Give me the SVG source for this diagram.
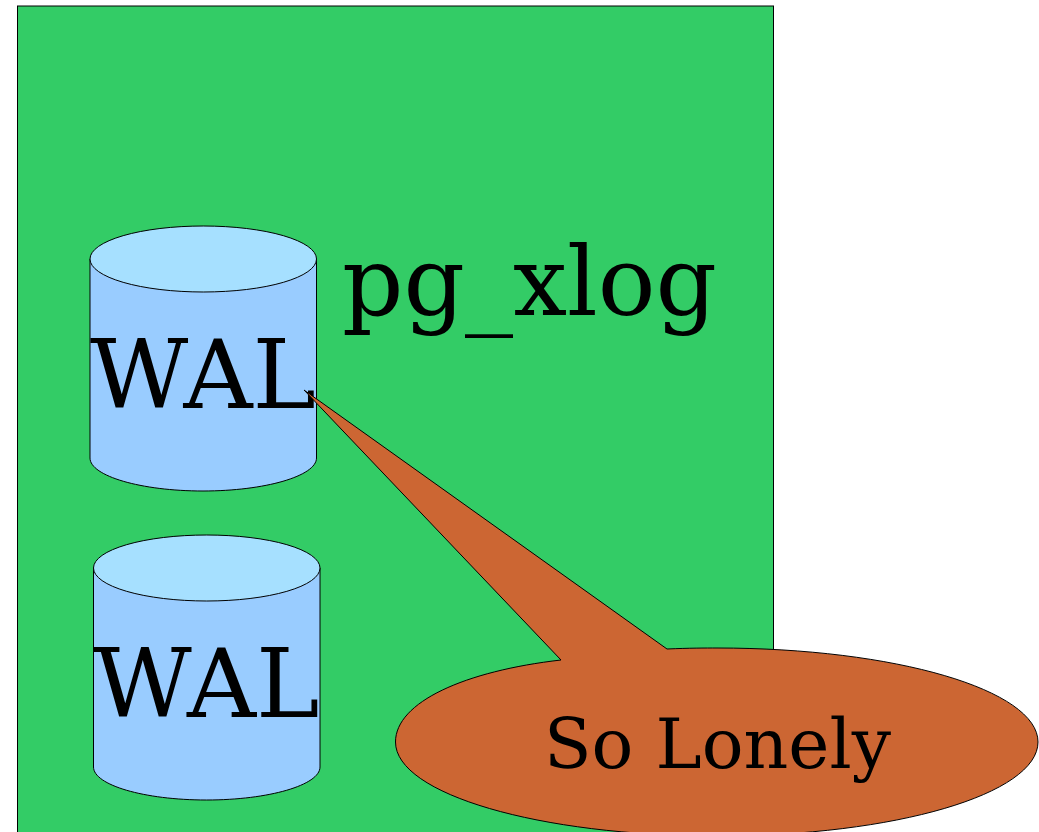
<svg xmlns="http://www.w3.org/2000/svg" width="1039" height="832" viewBox="0 0 1039 832">
<style>
.s{stroke:#000;stroke-width:1}
.body{fill:#99ccff}
.top{fill:#a6e0ff}
text{font-family:"DejaVu Serif","Liberation Serif",serif;fill:#000}
.big{font-size:96px}
.callout{fill:#cc6633}
</style>
<rect width="1039" height="832" fill="#fff"/>
<g id="container"><rect class="s" x="17.500" y="6" width="756" height="840" fill="#33cc66"/></g>
<g id="wal1">
<path class="s body" d="M90 259V458C90 476 141 491 203 491S316.500 476 316.500 458V259Z"/>
<ellipse class="s top" cx="203.250" cy="259" rx="113.250" ry="33"/>
<text class="big" x="203" y="408" text-anchor="middle" textLength="226" lengthAdjust="spacingAndGlyphs">WAL</text>
</g>
<g id="wal2">
<path class="s body" d="M93.500 568V767C93.500 785 144 800 206.500 800S320 785 320 767V568Z"/>
<ellipse class="s top" cx="206.750" cy="568" rx="113.250" ry="33"/>
<text class="big" x="206.500" y="717" text-anchor="middle" textLength="226" lengthAdjust="spacingAndGlyphs">WAL</text>
</g>
<g id="label"><text class="big" x="342" y="315" textLength="375" lengthAdjust="spacingAndGlyphs">pg_xlog</text></g>
<g id="callout">
<path class="s callout" d="M304 390L667 649C690 648 705 648 717 648C895 648 1038 690 1038 742C1038 794 895 836 717 836C539 836 395.500 794 395.500 742C395.500 702 465 671 561 660Z"/>
<text x="717.500" y="768" font-size="70" text-anchor="middle" textLength="347" lengthAdjust="spacingAndGlyphs">So Lonely</text>
</g>
<g id="connectors"></g>
</svg>
